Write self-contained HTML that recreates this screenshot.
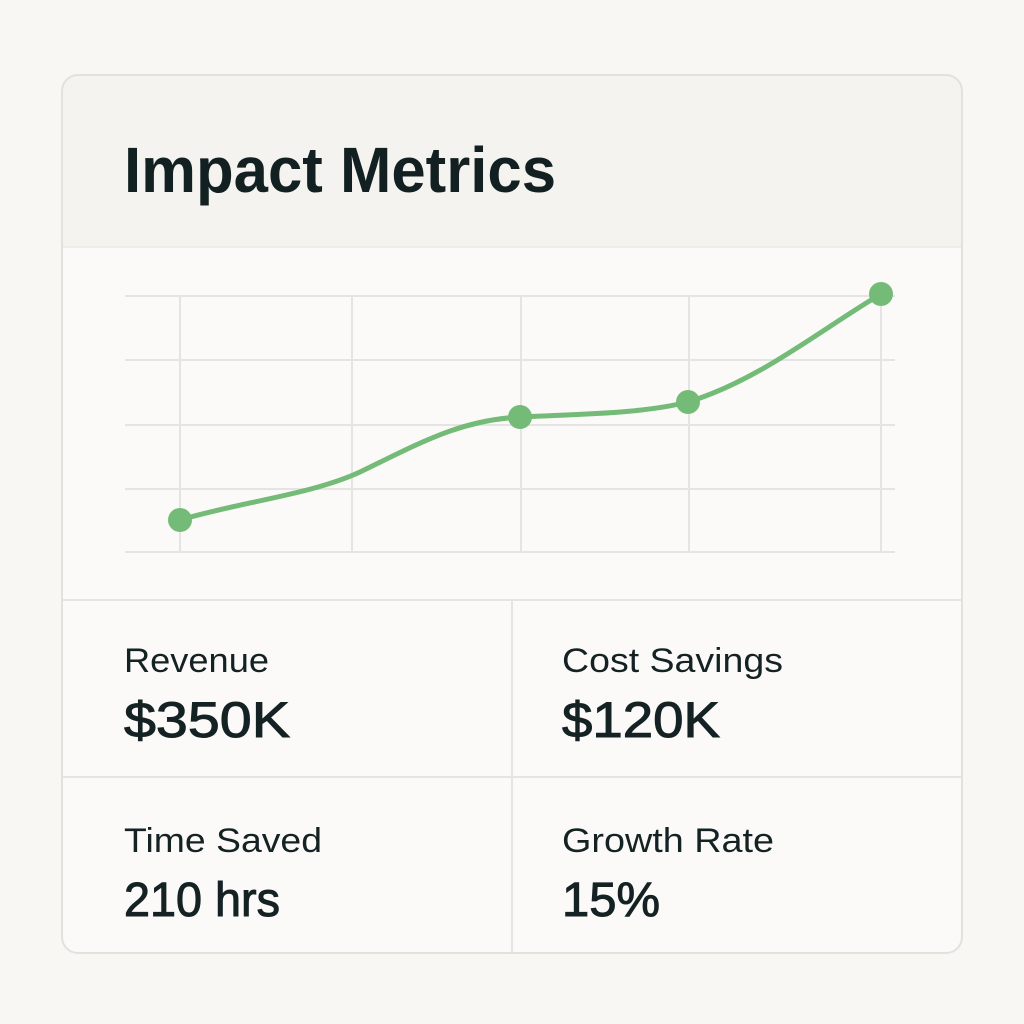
<!DOCTYPE html>
<html><head><style>html,body{margin:0;padding:0;background:#f8f7f4;}svg{display:block}</style></head>
<body>
<svg width="1024" height="1024" viewBox="0 0 1024 1024" xmlns="http://www.w3.org/2000/svg" font-family="Liberation Sans, sans-serif">
<rect width="1024" height="1024" fill="#f8f7f4"/>
<defs><clipPath id="c"><rect x="62" y="75" width="900" height="878" rx="16"/></clipPath></defs>
<g clip-path="url(#c)">
<rect x="62" y="75" width="900" height="878" fill="#fbfaf8"/>
<rect x="62" y="75" width="900" height="172" fill="#f5f3ef"/>
<line x1="62" y1="247" x2="962" y2="247" stroke="#ebe9e5" stroke-width="1.5"/>
</g>
<rect x="62" y="75" width="900" height="878" rx="16" fill="none" stroke="#e2e1de" stroke-width="2"/>
<text x="124" y="192" font-size="64" font-weight="bold" fill="#132022" textLength="432" lengthAdjust="spacingAndGlyphs">Impact Metrics</text>
<g stroke="#e4e4e2" stroke-width="2">
<line x1="125" y1="296" x2="895" y2="296"/>
<line x1="125" y1="360" x2="895" y2="360"/>
<line x1="125" y1="425" x2="895" y2="425"/>
<line x1="125" y1="489" x2="895" y2="489"/>
<line x1="125" y1="552" x2="895" y2="552"/>
<line x1="180" y1="296" x2="180" y2="552"/>
<line x1="352" y1="296" x2="352" y2="552"/>
<line x1="521" y1="296" x2="521" y2="552"/>
<line x1="689" y1="296" x2="689" y2="552"/>
<line x1="881" y1="296" x2="881" y2="552"/>
</g>
<path d="M180,520 C240,502 310,495 360,472 C420,443 460,420 520,417 C580,414 640,414 688,402 C760,380 820,330 881,294" fill="none" stroke="#74bb78" stroke-width="5" stroke-linecap="round"/>
<g fill="#74bb78"><circle cx="180" cy="520" r="12"/><circle cx="520" cy="417" r="12"/><circle cx="688" cy="402" r="12"/><circle cx="881" cy="294" r="12"/></g>
<g stroke="#e4e4e2" stroke-width="2">
<line x1="62" y1="600" x2="962" y2="600"/>
<line x1="62" y1="777" x2="962" y2="777"/>
<line x1="512" y1="600" x2="512" y2="953"/>
</g>
<g fill="#152224">
<text x="124" y="672" font-size="34" textLength="145" lengthAdjust="spacingAndGlyphs">Revenue</text>
<text x="562" y="672" font-size="34" textLength="221" lengthAdjust="spacingAndGlyphs">Cost Savings</text>
<text x="124" y="852" font-size="34" textLength="198" lengthAdjust="spacingAndGlyphs">Time Saved</text>
<text x="562" y="852" font-size="34" textLength="212" lengthAdjust="spacingAndGlyphs">Growth Rate</text>
</g>
<g fill="#152224" stroke="#152224" stroke-width="1">
<text x="124" y="737" font-size="50" textLength="166" lengthAdjust="spacingAndGlyphs">$350K</text>
<text x="562" y="737" font-size="50" textLength="158" lengthAdjust="spacingAndGlyphs">$120K</text>
<text x="124" y="916" font-size="48" textLength="156" lengthAdjust="spacingAndGlyphs">210 hrs</text>
<text x="562" y="916" font-size="48" textLength="98" lengthAdjust="spacingAndGlyphs">15%</text>
</g>
</svg>
</body></html>
